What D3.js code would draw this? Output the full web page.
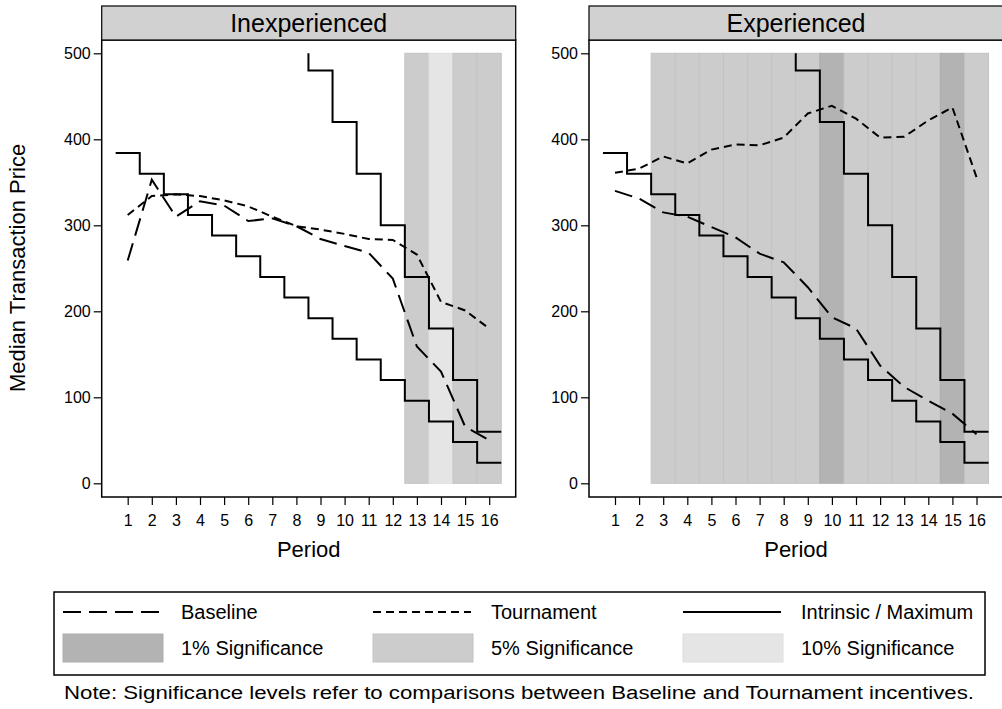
<!DOCTYPE html>
<html>
<head>
<meta charset="utf-8">
<script src="https://cdn.jsdelivr.net/npm/d3@7/dist/d3.min.js"></script>
<style>
body { margin: 0; background: #fff; }
svg text { font-family: "Liberation Sans", Arial, sans-serif; fill: #000; }
</style>
</head>
<body>
<svg id="chart" width="1002" height="709"></svg>
<script>
// data
var periods = [1, 2, 3, 4, 5, 6, 7, 8, 9, 10, 11, 12, 13, 14, 15, 16];
var yTicks = [0, 100, 200, 300, 400, 500];

var inexpBaseline   = [259, 353, 310, 328, 323, 305, 308, 299, 284, 276, 268, 238, 159, 130, 66, 50];
var inexpTournament = [312, 334, 336, 334, 329, 322, 310, 299, 295, 290, 284, 283, 266, 211, 201, 180];
var expBaseline     = [340, 331, 315, 310, 298, 286, 267, 257, 228, 193, 180, 137, 112, 96, 81, 57];
var expTournament   = [361, 366, 380, 372, 388, 394, 393, 402, 430, 439, 424, 402, 403, 422, 437, 356];

// intrinsic value and maximum price per period (drawn as steps)
var intrinsic = [384, 360, 336, 312, 288, 264, 240, 216, 192, 168, 144, 120, 96, 72, 48, 24];
var maximum   = [960, 900, 840, 780, 720, 660, 600, 540, 480, 420, 360, 300, 240, 180, 120, 60];

// significance of Baseline vs Tournament, per period
var inexpSignif = [null, null, null, null, null, null, null, null, null, null, null, null, "5%", "10%", "5%", "5%"];
var expSignif   = [null, null, "5%", "5%", "5%", "5%", "5%", "5%", "5%", "1%", "5%", "5%", "5%", "5%", "1%", "5%"];

var levelFill   = {"1%": "#b3b3b3", "5%": "#cccccc", "10%": "#e5e5e5"};
var levelStroke = {"1%": "#adadad", "5%": "#c3c3c3", "10%": "#dedede"};

var stripTop = 6, stripBottom = 40, plotBottom = 497;
var panelWidth = 414;
var lineWidth = 2;
var baselineDash = "18,8";
var tournamentDash = "8,5";

var svg = d3.select("#chart");
var y = d3.scaleLinear().domain([0, 500]).range([483.3, 53.3]);
var x = d3.scaleLinear().domain([1, 16]).range([26, 26 + 15 * 24.1]);

var panels = [
    {title: "Inexperienced", left: 101.7, baseline: inexpBaseline, tournament: inexpTournament, signif: inexpSignif},
    {title: "Experienced",   left: 589,   baseline: expBaseline,   tournament: expTournament,   signif: expSignif}
];

function stepPoints(values) {
    var pts = values.map(function(v, i) { return [periods[i] - 0.5, v]; });
    pts.push([periods[periods.length - 1] + 0.5, values[values.length - 1]]);
    return pts;
}

function drawPanel(p, idx) {
    var g = svg.append("g").attr("transform", "translate(" + p.left + ",0)");

    // significance bands
    var bands = periods.map(function(d, j) { return {period: d, level: p.signif[j]}; })
                       .filter(function(d) { return d.level; });
    g.selectAll("rect.band").data(bands).join("rect")
        .attr("class", "band")
        .attr("x", function(d) { return x(d.period - 0.5); })
        .attr("width", function(d) { return x(d.period + 0.5) - x(d.period - 0.5); })
        .attr("y", y(500))
        .attr("height", y(0) - y(500))
        .attr("fill", function(d) { return levelFill[d.level]; })
        .attr("stroke", function(d) { return levelStroke[d.level]; })
        .attr("stroke-width", 1);

    // clip to the 0..500 range
    var clipId = "clip" + idx;
    g.append("clipPath").attr("id", clipId).append("rect")
        .attr("x", 0).attr("y", y(500)).attr("width", panelWidth).attr("height", y(0) - y(500));

    var line = d3.line().x(function(d) { return x(d[0]); }).y(function(d) { return y(d[1]); });
    var steps = d3.line().curve(d3.curveStepAfter)
        .x(function(d) { return x(d[0]); }).y(function(d) { return y(d[1]); });

    var lines = g.append("g").attr("clip-path", "url(#" + clipId + ")")
        .attr("fill", "none").attr("stroke", "#000").attr("stroke-width", lineWidth);

    lines.append("path").attr("d", steps(stepPoints(intrinsic)));
    lines.append("path").attr("d", steps(stepPoints(maximum)));
    lines.append("path").attr("stroke-dasharray", baselineDash)
        .attr("d", line(p.baseline.map(function(v, i) { return [periods[i], v]; })));
    lines.append("path").attr("stroke-dasharray", tournamentDash)
        .attr("d", line(p.tournament.map(function(v, i) { return [periods[i], v]; })));

    // frame + strip
    g.append("rect").attr("x", 0).attr("y", stripBottom)
        .attr("width", panelWidth).attr("height", plotBottom - stripBottom)
        .attr("fill", "none").attr("stroke", "#000").attr("stroke-width", 1.5);
    g.append("rect").attr("x", 0).attr("y", stripTop)
        .attr("width", panelWidth).attr("height", stripBottom - stripTop)
        .attr("fill", "#d1d1d1").attr("stroke", "#000").attr("stroke-width", 1.2);
    g.append("text").attr("x", panelWidth / 2).attr("y", stripBottom - 8)
        .attr("text-anchor", "middle").style("font-size", "25px").text(p.title);

    // axes
    var ya = g.append("g").call(d3.axisLeft(y).tickValues(yTicks).tickSize(8).tickPadding(3).tickSizeOuter(0));
    ya.select(".domain").remove();
    ya.selectAll("text").style("font-size", "16px").attr("font-family", null);
    ya.selectAll("line").attr("stroke-width", 1.2);

    var xa = g.append("g").attr("transform", "translate(0," + plotBottom + ")")
        .call(d3.axisBottom(x).tickValues(periods).tickSize(8).tickPadding(10).tickSizeOuter(0));
    xa.select(".domain").remove();
    xa.selectAll("text").style("font-size", "16px").attr("font-family", null);
    xa.selectAll("line").attr("stroke-width", 1.2);

    g.append("text").attr("x", panelWidth / 2).attr("y", 557)
        .attr("text-anchor", "middle").style("font-size", "22px").text("Period");
}

panels.forEach(drawPanel);

svg.append("text")
    .attr("transform", "translate(25,268) rotate(-90)")
    .attr("text-anchor", "middle").style("font-size", "22px")
    .text("Median Transaction Price");

// legend
var legend = svg.append("g");
legend.append("rect").attr("x", 54).attr("y", 592).attr("width", 931).attr("height", 83)
    .attr("fill", "#fff").attr("stroke", "#000").attr("stroke-width", 1.5);

var legendCols = [63, 373, 683];
var lineKeys = [
    {label: "Baseline", dash: baselineDash},
    {label: "Tournament", dash: tournamentDash},
    {label: "Intrinsic / Maximum", dash: null}
];
var fillKeys = [
    {label: "1% Significance", level: "1%"},
    {label: "5% Significance", level: "5%"},
    {label: "10% Significance", level: "10%"}
];

lineKeys.forEach(function(k, i) {
    var cx = legendCols[i];
    legend.append("line").attr("x1", cx).attr("x2", cx + 98).attr("y1", 612).attr("y2", 612)
        .attr("stroke", "#000").attr("stroke-width", lineWidth)
        .attr("stroke-dasharray", k.dash);
    legend.append("text").attr("x", cx + 118).attr("y", 619).style("font-size", "20px").text(k.label);
});
fillKeys.forEach(function(k, i) {
    var cx = legendCols[i];
    legend.append("rect").attr("x", cx).attr("y", 634).attr("width", 100).attr("height", 28)
        .attr("fill", levelFill[k.level]).attr("stroke", levelStroke[k.level]);
    legend.append("text").attr("x", cx + 118).attr("y", 655).style("font-size", "20px").text(k.label);
});

svg.append("text").attr("x", 519).attr("y", 699).attr("text-anchor", "middle")
    .style("font-size", "18px")
    .attr("textLength", 910).attr("lengthAdjust", "spacingAndGlyphs")
    .text("Note: Significance levels refer to comparisons between Baseline and Tournament incentives.");
</script>
</body>
</html>
